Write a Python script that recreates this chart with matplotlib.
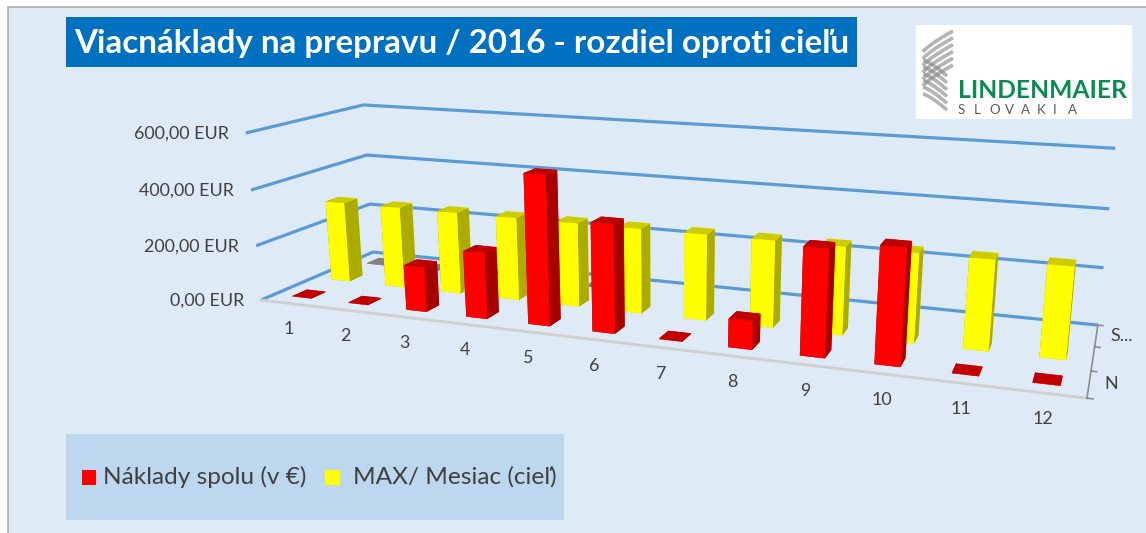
import numpy as np
import matplotlib
matplotlib.use("Agg")
import matplotlib.pyplot as plt
from matplotlib.patches import Rectangle
from mpl_toolkits.mplot3d import Axes3D, proj3d  # noqa

# ---------- data ----------
months = ["1", "2", "3", "4", "5", "6", "7", "8", "9", "10", "11", "12"]
naklady = [2, 2, 160, 232, 515, 370, 2, 95, 352, 376, 2, 2]
ciel = [300, 300, 300, 300, 300, 300, 300, 300, 300, 300, 300, 300]
tretia = [2, 2, 2, 2, 2, None, None, None, None, None, None, None]
value_ticks = [0, 200, 400, 600]
value_labels = ["0,00 EUR", "200,00 EUR", "400,00 EUR", "600,00 EUR"]
depth_labels = ["N", "S..."]
title = "Viacnáklady na prepravu / 2016 - rozdiel oproti cieľu"
legend_names = ["Náklady spolu (v €)", "MAX/ Mesiac (cieľ)"]

plt.rcParams["font.family"] = ["Lato", "DejaVu Sans"]
W, H = 1146, 533
fig = plt.figure(figsize=(W / 100, H / 100), dpi=100, facecolor="white")

# ---------- page furniture ----------
bg = fig.add_axes([0, 0, 1, 1])
bg.set_xlim(0, W); bg.set_ylim(H, 0); bg.axis("off")
bg.add_patch(Rectangle((8, 7), W, H, fc="#DEEAF6", ec="#ABABAB", lw=1.2))
bg.add_patch(Rectangle((66, 17), 791, 50, fc="#0070C0", ec="none"))
bg.text(74, 43, title, color="white", fontsize=23.9, fontweight="bold", va="center", ha="left")
bg.add_patch(Rectangle((916, 25), 216, 94, fc="white", ec="none"))
t = np.linspace(0, 1, 40)
for k in range(6):
    bg.plot(923 + 30 * t, 52 + k * 6.8 - 21 * t ** 0.8, color="#8C8C8C", alpha=0.65, lw=2.6, solid_capstyle="butt")
    bg.plot(923 + 24 * t, 60 + k * 6.8 + 16 * t ** 1.3, color="#8C8C8C", alpha=0.65, lw=2.6, solid_capstyle="butt")
bg.text(958, 91, "LINDENMAIER", color="#0B8A53", fontsize=17.7, fontweight="bold", va="center", ha="left")
for lx, ch in zip(np.linspace(958, 1068, 8), "SLOVAKIA"):
    bg.text(lx, 110.5, ch, color="#595959", fontsize=9.5, va="center", ha="left")
bg.add_patch(Rectangle((66, 434), 498, 86, fc="#BDD7EE", ec="none"))
bg.add_patch(Rectangle((82, 470), 14, 15, fc="#FF0000", ec="none"))
bg.add_patch(Rectangle((325, 470), 15, 15, fc="#FFFF00", ec="none"))
bg.text(103, 477, legend_names[0], color="#404040", fontsize=17.6, va="center", ha="left")
bg.text(353, 477, legend_names[1], color="#404040", fontsize=17.6, va="center", ha="left")

# ---------- 3D axes with a camera calibrated on the chart's box ----------
ax = fig.add_axes([0, 0, 1, 1], projection="3d", computed_zorder=False)
ax.patch.set_visible(False)
ax.set_axis_off()
ax.apply_aspect = lambda position=None: None
ax.viewLim.intervalx = (0, W)
ax.viewLim.intervaly = (H, 0)
ax._focal_length = np.inf

world = np.array([
    (0, 0, 0), (0, 0, 200), (0, 0, 400), (0, 0, 600),
    (0, 3, 0), (0, 3, 200), (0, 3, 400), (0, 3, 600),
    (12, 3, 0), (12, 3, 200), (12, 3, 400), (12, 3, 600),
    (12, 0, 0)], float)
screen = np.array([
    (261, 300), (256, 246), (251, 190), (246, 133),
    (373, 252), (370, 204), (367, 155), (363, 105),
    (1098, 325), (1103, 268), (1110, 209), (1115, 148),
    (1087, 398)], float)
A, b = [], []
for (X, Y, Z), (u, v) in zip(world, screen):
    A.append([X, Y, Z, 1, 0, 0, 0, 0, -u * X, -u * Y, -u * Z]); b.append(u)
    A.append([0, 0, 0, 0, X, Y, Z, 1, -v * X, -v * Y, -v * Z]); b.append(v)
p = np.linalg.lstsq(np.array(A), np.array(b), rcond=None)[0]
P = np.append(p, 1).reshape(3, 4)
M = np.vstack([P[0], P[1], P[2] - [0, 0, 0, 1], P[2]])
ax.get_proj = lambda: M
ax.M = M


def label(x, y, z, s, dx=0, dy=0, **kw):
    u, v, _ = proj3d.proj_transform(x, y, z, M)
    bg.text(float(u) + dx, float(v) + dy, s, color="#404040", fontsize=12.9, va="center", **kw)


GRID = "#5B9BD5"
for v in value_ticks:
    ax.plot([0, 0, 12], [0, 3, 3], [v, v, v], color=GRID, lw=2.3, zorder=1, solid_capstyle="butt")
ax.plot([0, 12], [0, 0], [0, 0], color="#D0CECE", lw=2, zorder=2)
ax.plot([12, 12], [0, 3], [0, 0], color="#8C8C8C", lw=1.2, zorder=2)
for yy in range(4):
    ax.plot([12, 12.07], [yy, yy], [0, 0], color="#8C8C8C", lw=1.2, zorder=2)

BW, BD = 0.34, 0.36
faces = {
    "grey": ["#808080", "#808080", "#808080", "#808080", "#606060", "#606060"],
    "yellow": ["#CCCC00", "#CCCC00", "#FFFF00", "#FFFF00", "#ABAB00", "#ABAB00"],
    "red": ["#C00000", "#C00000", "#FF0000", "#FF0000", "#A80000", "#A80000"],
}
z = 10
for row, vals, key in ((2, tretia, "grey"), (1, ciel, "yellow"), (0, naklady, "red")):
    for i, v in enumerate(vals):
        if v is None:
            continue
        z += 1
        ax.bar3d(i + 0.5 - BW / 2, row + 0.5 - BD / 2, 0, BW, BD, v,
                 color=faces[key], shade=False, zorder=z, edgecolor="none", linewidth=0)

for i, m in enumerate(months):
    label(i + 0.5, 0, 0, m, dx=-i / 11, dy=26, ha="center")
for v, s in zip(value_ticks, value_labels):
    label(0, 0, v, s, dx=-17, dy=1, ha="right")
label(12, 0.5, 0, depth_labels[0], dx=15, ha="left")
label(12, 2.5, 0, depth_labels[1], dx=14, ha="left")

fig.savefig("out.png", dpi=100, facecolor="white")
